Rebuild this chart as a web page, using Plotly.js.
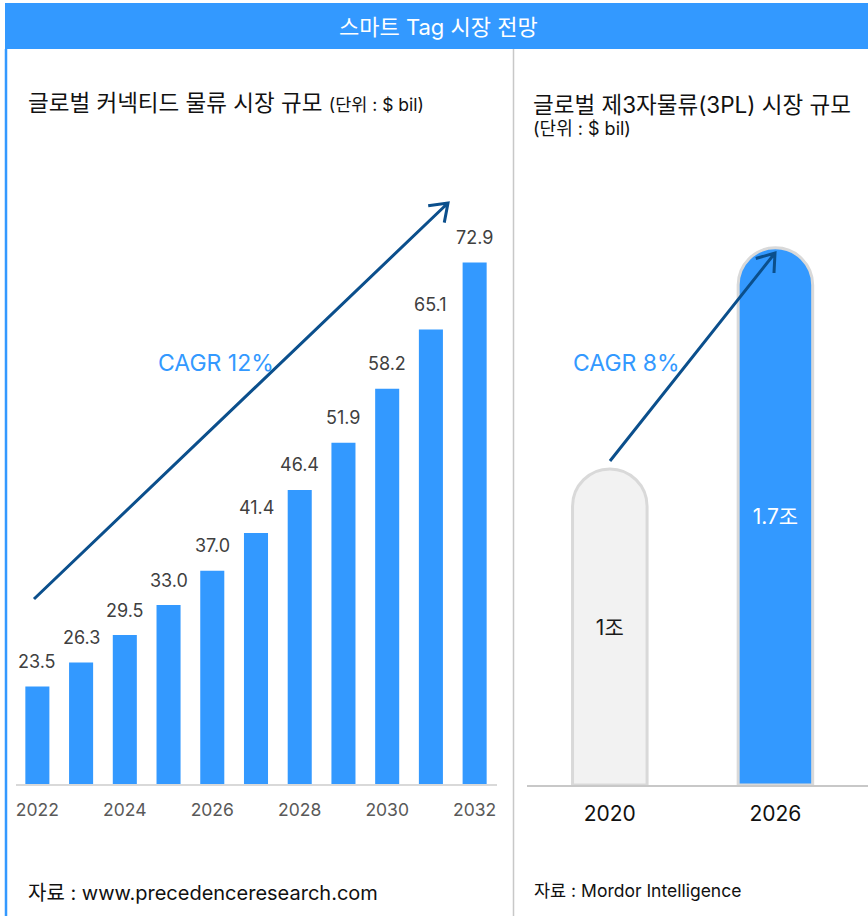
<!DOCTYPE html>
<html>
<head>
<meta charset="utf-8">
<script src="https://cdn.plot.ly/plotly-3.0.1.min.js"></script>
<style>
  html, body { margin: 0; padding: 0; background: #ffffff; }
  #chart { width: 868px; height: 916px; }
</style>
</head>
<body>
<div id="chart"></div>
<script>
// ---------- DATA ----------
var leftYears = [2022, 2023, 2024, 2025, 2026, 2027, 2028, 2029, 2030, 2031, 2032];
var leftValues = [23.5, 26.3, 29.5, 33.0, 37.0, 41.4, 46.4, 51.9, 58.2, 65.1, 72.9];
var leftTickYears = [2022, 2024, 2026, 2028, 2030, 2032];
var rightYears = ['2020', '2026'];
var rightValues = [1, 1.7];
var rightUnit = '조';

var headerTitle = '스마트 Tag 시장 전망';
var leftTitle = '글로벌 커넥티드 물류 시장 규모';
var leftUnit = '(단위 : $ bil)';
var rightTitle = '글로벌 제3자물류(3PL) 시장 규모';
var rightUnitLabel = '(단위 : $ bil)';
var leftCagr = 'CAGR 12%';
var rightCagr = 'CAGR 8%';
var leftSource = '자료 : www.precedenceresearch.com';
var rightSource = '자료 : Mordor Intelligence';

// ---------- LAYOUT HELPERS ----------
var W = 868, H = 916;
function px(x) { return x / W; }
function py(y) { return 1 - y / H; }
var FONT = "Inter, 'Noto Sans CJK KR', 'Noto Sans', sans-serif";
var BLUE = '#3399ff';
var NAVY = '#0b4f8c';

function arrowPath(x0, y0, x1, y1, len, ang) {
  var a = Math.atan2(y0 - y1, x0 - x1);
  var h1x = x1 + len * Math.cos(a + ang), h1y = y1 + len * Math.sin(a + ang);
  var h2x = x1 + len * Math.cos(a - ang), h2y = y1 + len * Math.sin(a - ang);
  function p(x, y) { return px(x).toFixed(5) + ',' + py(y).toFixed(5); }
  return 'M' + p(x0, y0) + ' L' + p(x1, y1) + ' M' + p(h1x, h1y) + ' L' + p(x1, y1) + ' L' + p(h2x, h2y);
}

// ---------- TRACES ----------
var traces = [
  {
    type: 'bar', x: leftYears, y: leftValues, xaxis: 'x', yaxis: 'y',
    width: 0.55, marker: { color: BLUE, line: { width: 0 } },
    hoverinfo: 'x+y', showlegend: false
  },
  {
    type: 'bar', x: rightYears, y: rightValues, xaxis: 'x2', yaxis: 'y2',
    width: 0.45,
    marker: { color: ['#f2f2f2', BLUE], line: { width: 3, color: '#d9d9d9' }, cornerradius: '50%' },
    text: rightValues.map(function (v) { return v + rightUnit; }),
    textposition: 'inside', insidetextanchor: 'middle',
    textfont: { family: FONT, size: 21, color: ['#1a1a1a', '#ffffff'] },
    constraintext: 'none',
    hoverinfo: 'x+y', showlegend: false
  }
];

// ---------- ANNOTATIONS ----------
var annotations = leftYears.map(function (yr, i) {
  return {
    x: yr, y: leftValues[i], xref: 'x', yref: 'y', text: leftValues[i].toFixed(1),
    showarrow: false, yanchor: 'middle', yshift: 25,
    font: { family: FONT, size: 18, color: '#404040' }
  };
});

annotations.push(
  { x: px(439), y: py(27), xref: 'paper', yref: 'paper', text: headerTitle, showarrow: false,
    xanchor: 'center', yanchor: 'middle', font: { family: FONT, size: 22, color: '#ffffff' } },
  { x: px(26), y: py(103), xref: 'paper', yref: 'paper',
    text: leftTitle + ' <span style="font-size:17.5px">' + leftUnit + '</span>', showarrow: false,
    xanchor: 'left', yanchor: 'middle', font: { family: FONT, size: 22.5, color: '#111111' } },
  { x: px(531), y: py(104), xref: 'paper', yref: 'paper', text: rightTitle, showarrow: false,
    xanchor: 'left', yanchor: 'middle', font: { family: FONT, size: 22.5, color: '#111111' } },
  { x: px(531), y: py(128), xref: 'paper', yref: 'paper', text: rightUnitLabel, showarrow: false,
    xanchor: 'left', yanchor: 'middle', font: { family: FONT, size: 18, color: '#111111' } },
  { x: px(156), y: py(363), xref: 'paper', yref: 'paper', text: leftCagr, showarrow: false,
    xanchor: 'left', yanchor: 'middle', font: { family: FONT, size: 23, color: BLUE } },
  { x: px(571), y: py(363), xref: 'paper', yref: 'paper', text: rightCagr, showarrow: false,
    xanchor: 'left', yanchor: 'middle', font: { family: FONT, size: 23, color: BLUE } },
  { x: px(26), y: py(893), xref: 'paper', yref: 'paper', text: leftSource, showarrow: false,
    xanchor: 'left', yanchor: 'middle', font: { family: FONT, size: 20, color: '#111111' } },
  { x: px(532), y: py(890), xref: 'paper', yref: 'paper', text: rightSource, showarrow: false,
    xanchor: 'left', yanchor: 'middle', font: { family: FONT, size: 17.5, color: '#111111' } }
);

// ---------- SHAPES (frame / decorations) ----------
var shapes = [
  { type: 'rect', xref: 'paper', yref: 'paper', x0: px(5), x1: 1, y0: py(49), y1: py(3),
    fillcolor: BLUE, line: { width: 0 }, layer: 'below' },
  { type: 'line', xref: 'paper', yref: 'paper', x0: px(6), x1: px(6), y0: py(49), y1: 0,
    line: { color: BLUE, width: 2.5 } },
  { type: 'line', xref: 'paper', yref: 'paper', x0: px(513.5), x1: px(513.5), y0: py(49), y1: 0,
    line: { color: '#c8c8c8', width: 1.5 } },
  { type: 'path', xref: 'paper', yref: 'paper', path: arrowPath(34, 599, 448, 203, 20, 0.62),
    line: { color: NAVY, width: 3 } },
  { type: 'path', xref: 'paper', yref: 'paper', path: arrowPath(610, 461, 775, 253, 20, 0.62),
    line: { color: NAVY, width: 3 } }
];

var layout = {
  width: W, height: H,
  margin: { l: 0, r: 0, t: 0, b: 0, pad: 0 },
  paper_bgcolor: '#ffffff', plot_bgcolor: 'rgba(0,0,0,0)',
  showlegend: false,
  font: { family: FONT },
  xaxis: {
    domain: [px(15.5), px(496.5)], range: [2021.5, 2032.5],
    tickvals: leftTickYears, ticktext: leftTickYears.map(String),
    tickfont: { family: FONT, size: 17.5, color: '#595959' },
    showgrid: false, zeroline: false,
    showline: true, linecolor: '#d9d9d9', linewidth: 2,
    ticks: 'outside', ticklen: 9, tickcolor: 'rgba(0,0,0,0)',
    fixedrange: true
  },
  yaxis: {
    domain: [py(784), py(180)], range: [12.16, 82.5],
    visible: false, showgrid: false, zeroline: false, fixedrange: true
  },
  xaxis2: {
    domain: [px(527), 1], range: [-0.5, 1.559], type: 'category',
    anchor: 'y2',
    tickfont: { family: FONT, size: 21, color: '#111111' },
    showgrid: false, zeroline: false,
    showline: true, linecolor: '#c8c8c8', linewidth: 2,
    ticks: 'outside', ticklen: 9, tickcolor: 'rgba(0,0,0,0)',
    fixedrange: true
  },
  yaxis2: {
    domain: [py(785), py(180)], range: [0, 605 / 316], anchor: 'x2',
    visible: false, showgrid: false, zeroline: false, fixedrange: true
  },
  annotations: annotations,
  shapes: shapes
};

Plotly.newPlot('chart', traces, layout, { displayModeBar: false, staticPlot: true });
</script>
</body>
</html>
